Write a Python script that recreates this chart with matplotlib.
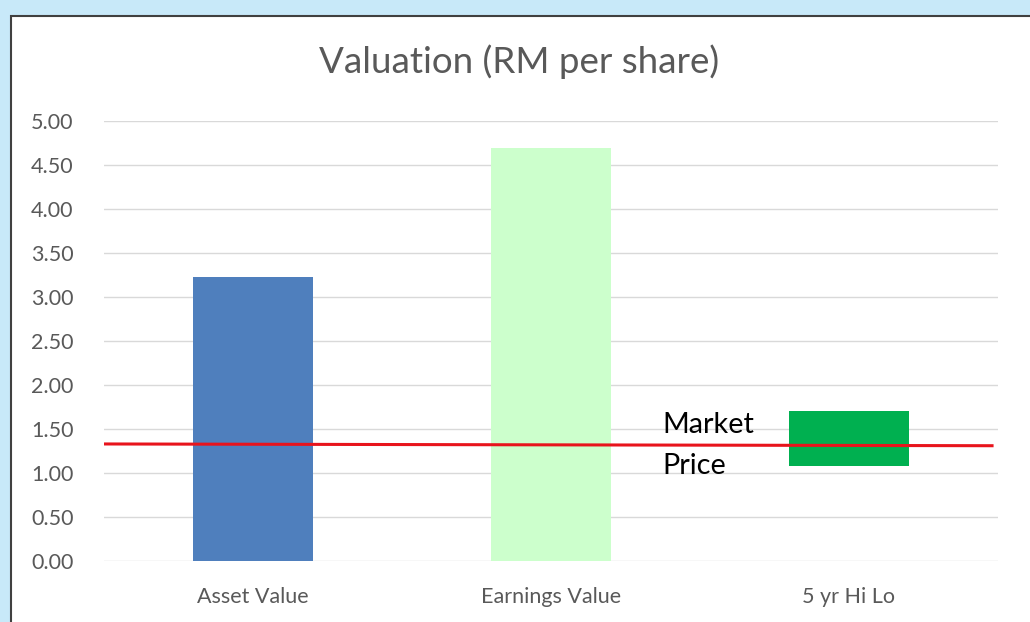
import matplotlib
matplotlib.use("Agg")
import matplotlib.pyplot as plt
from matplotlib.patches import Rectangle

categories = ["Asset Value", "Earnings Value", "5 yr Hi Lo"]
bar_bottoms = [0.0, 0.0, 1.08]
bar_tops = [3.23, 4.69, 1.70]
bar_colors = ["#4f7fbd", "#ccffcc", "#00b050"]
market_price = [1.33, 1.31]   # red line, left end / right end
yticks = [0.0, 0.5, 1.0, 1.5, 2.0, 2.5, 3.0, 3.5, 4.0, 4.5, 5.0]

plt.rcParams['font.family'] = ['Lato', 'DejaVu Sans']

fig = plt.figure(figsize=(10.3, 6.22), dpi=100)
fig.patch.set_facecolor("#c8e9f9")

# white chart panel with dark border
panel = Rectangle((11 / 1030, -0.01), 1.0, 1 - 16 / 622 + 0.01,
                  transform=fig.transFigure, facecolor="white",
                  edgecolor="#404040", linewidth=1.5, zorder=-10)
fig.patches.append(panel)

ax = fig.add_axes([104 / 1030, 1 - 561 / 622, 894 / 1030, 440 / 622])
ax.set_facecolor("none")

x = range(len(categories))
heights = [t - b for t, b in zip(bar_tops, bar_bottoms)]
ax.bar(x, heights, bottom=bar_bottoms, width=0.4, color=bar_colors, zorder=2)

ax.set_xlim(-0.5, len(categories) - 0.5)
ax.set_ylim(0, 5)
ax.set_yticks(yticks)
ax.set_yticklabels(["%.2f" % v for v in yticks])
ax.set_xticks(list(x))
ax.set_xticklabels(categories)
ax.tick_params(axis="both", length=0, labelsize=15.5, colors="#595959")
ax.tick_params(axis="y", pad=22)
ax.tick_params(axis="x", pad=19)
ax.yaxis.grid(True, color="#d9d9d9", linewidth=1)
ax.set_axisbelow(True)
for s in ax.spines.values():
    s.set_visible(False)

ax.plot([-0.5, 2.48], market_price, color="#e8141c", linewidth=2.2, zorder=3)
ax.text(1.375, 1.455, "Market", fontsize=20.8, color="black", va="baseline")
ax.text(1.375, 0.99, "Price", fontsize=20.8, color="black", va="baseline")

fig.text(0.5 * (1 + 11 / 1030) - 0.001, 1 - 62 / 622, "Valuation (RM per share)",
         ha="center", va="center", fontsize=26.5, color="#595959")

fig.savefig("out.png", dpi=100, facecolor=fig.get_facecolor())
